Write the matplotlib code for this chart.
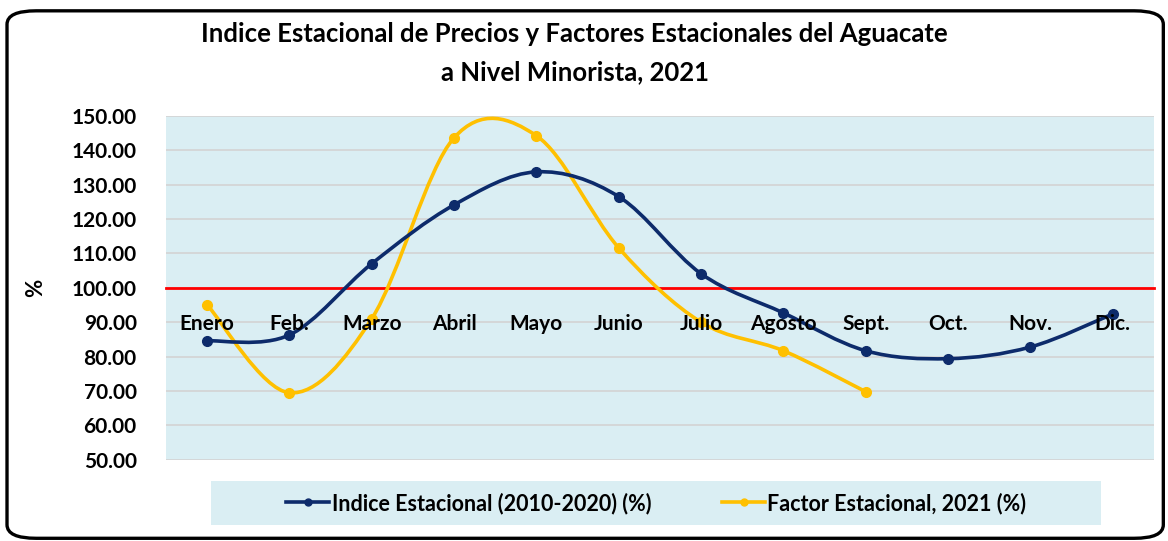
import matplotlib
matplotlib.use("Agg")
import matplotlib.pyplot as plt
from matplotlib.path import Path
from matplotlib.patches import PathPatch, FancyBboxPatch, Rectangle
from matplotlib.lines import Line2D

# ----------- Data -----------
meses = ["Enero", "Feb.", "Marzo", "Abril", "Mayo", "Junio",
         "Julio", "Agosto", "Sept.", "Oct.", "Nov.", "Dic."]
indice = [84.6, 86.3, 107.0, 124.1, 133.7, 126.5,
          104.1, 92.7, 81.7, 79.4, 82.8, 92.4]
factor = [95.1, 69.5, 91.0, 143.6, 144.2, 111.6, 90.0, 81.7, 69.8]
yticks = [50, 60, 70, 80, 90, 100, 110, 120, 130, 140, 150]

azul = "#0d2b6b"
amarillo = "#ffc000"
fondo = "#daeef3"
fuente = "Lato"


# ----------- Helper: Excel-like smoothed line -----------
def smooth_path(x, y):
    verts = [(x[0], y[0])]
    codes = [Path.MOVETO]
    n = len(x)
    for i in range(n - 1):
        x0, y0 = (x[i - 1], y[i - 1]) if i > 0 else (x[i], y[i])
        x3, y3 = (x[i + 2], y[i + 2]) if i + 2 < n else (x[i + 1], y[i + 1])
        c1 = (x[i] + (x[i + 1] - x0) / 6, y[i] + (y[i + 1] - y0) / 6)
        c2 = (x[i + 1] - (x3 - x[i]) / 6, y[i + 1] - (y3 - y[i]) / 6)
        verts += [c1, c2, (x[i + 1], y[i + 1])]
        codes += [Path.CURVE4] * 3
    return Path(verts, codes)


plt.rcParams["font.family"] = fuente
plt.rcParams["font.weight"] = "bold"
plt.rcParams["axes.labelweight"] = "bold"

# ----------- Plot -----------
fig = plt.figure(figsize=(11.68, 5.41), dpi=100)

# outer rounded frame
fig.patches.append(FancyBboxPatch((0.006, 0.005), 0.99, 0.975,
                                  boxstyle="round,pad=0,rounding_size=0.025",
                                  transform=fig.transFigure, fill=False,
                                  edgecolor="black", linewidth=2.4))

ax = fig.add_axes([0.142, 0.150, 0.846, 0.636])
ax.set_facecolor(fondo)

x1 = list(range(len(indice)))
x2 = list(range(len(factor)))

ax.add_patch(PathPatch(smooth_path(x1, indice), fill=False, edgecolor=azul,
                       linewidth=2.6, zorder=4, capstyle="round"))
ax.plot(x1, indice, "o", color=azul, markersize=7, zorder=5)
ax.add_patch(PathPatch(smooth_path(x2, factor), fill=False, edgecolor=amarillo,
                       linewidth=2.6, zorder=2, capstyle="round"))
ax.plot(x2, factor, "o", color=amarillo, markersize=7, zorder=3)

ax.set_xlim(-0.5, len(meses) - 0.5)
ax.set_ylim(50, 150)
ax.set_yticks(yticks)
ax.set_yticklabels([f"{v:.2f}" for v in yticks])
ax.yaxis.grid(True, color="#d3d3d3", linewidth=1.2)
ax.set_axisbelow(True)

ax.set_xticks(x1)
ax.set_xticklabels(meses)
ax.tick_params(axis="x", length=0, pad=19, labelsize=15)
ax.tick_params(axis="y", length=0, pad=21, labelsize=15)
ax.xaxis.set_zorder(6)

for s in ["top", "right", "left"]:
    ax.spines[s].set_visible(False)
ax.spines["bottom"].set_position(("data", 100))
ax.spines["bottom"].set_color("#ff0000")
ax.spines["bottom"].set_linewidth(2)
ax.spines["bottom"].set_zorder(1)

ax.set_ylabel("%", fontsize=16, fontweight="bold", labelpad=18)

fig.text(0.492, 0.938, "Indice Estacional de Precios y Factores Estacionales del Aguacate",
         ha="center", va="center", fontsize=18.5)
fig.text(0.492, 0.866, "a Nivel Minorista, 2021",
         ha="center", va="center", fontsize=18.5)

# legend box
fig.patches.append(Rectangle((0.1807, 0.0296), 0.762, 0.0813, transform=fig.transFigure,
                             facecolor=fondo, edgecolor="none"))
handles = [Line2D([], [], color=azul, linewidth=2.6, marker="o", markersize=5),
           Line2D([], [], color=amarillo, linewidth=2.6, marker="o", markersize=5)]
fig.legend(handles, ["Indice Estacional (2010-2020) (%)", "Factor Estacional, 2021 (%)"],
           loc="center", bbox_to_anchor=(0.562, 0.070), ncol=2, frameon=False,
           handlelength=2.0, handletextpad=0.1, columnspacing=3.3,
           prop={"family": fuente, "weight": "bold", "size": 15.5})

plt.savefig("out.png", dpi=100)
